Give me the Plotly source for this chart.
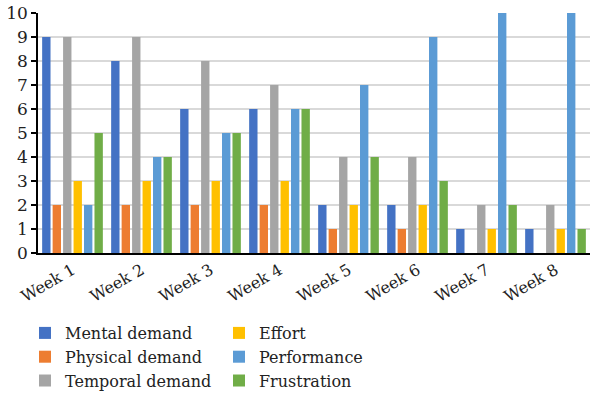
import plotly.graph_objects as go

weeks = ["Week 1", "Week 2", "Week 3", "Week 4", "Week 5", "Week 6", "Week 7", "Week 8"]

mental_demand = [9, 8, 6, 6, 2, 2, 1, 1]
physical_demand = [2, 2, 2, 2, 1, 1, 0, 0]
temporal_demand = [9, 9, 8, 7, 4, 4, 2, 2]
effort = [3, 3, 3, 3, 2, 2, 1, 1]
performance = [2, 4, 5, 6, 7, 9, 10, 10]
frustration = [5, 4, 5, 6, 4, 3, 2, 1]

series = [
    ("Mental demand", mental_demand, "#4472C4", "legend"),
    ("Physical demand", physical_demand, "#ED7D31", "legend"),
    ("Temporal demand", temporal_demand, "#A5A5A5", "legend"),
    ("Effort", effort, "#FFC000", "legend2"),
    ("Performance", performance, "#5B9BD5", "legend2"),
    ("Frustration", frustration, "#70AD47", "legend2"),
]

FONT = "'DejaVu Serif', 'Liberation Serif', serif"

fig = go.Figure()
for name, vals, color, leg in series:
    fig.add_trace(go.Bar(
        x=weeks, y=vals, name=name,
        marker=dict(color=color, line=dict(width=0)),
        legend=leg, legendgroup=name,
    ))

legend_style = dict(
    orientation="v",
    yanchor="top",
    xanchor="left",
    xref="container",
    yref="container",
    y=0.202,
    font=dict(family=FONT, size=16, color="#222222"),
    bgcolor="rgba(0,0,0,0)",
    tracegroupgap=0,
    itemclick=False,
)

fig.update_layout(
    width=592, height=396,
    margin=dict(l=38, r=2, t=13, b=143, autoexpand=False),
    paper_bgcolor="white",
    plot_bgcolor="white",
    barmode="group",
    bargap=0.09,
    bargroupgap=0.2,
    font=dict(family=FONT, size=16, color="#222222"),
    legend=dict(x=25 / 592, **legend_style),
    legend2=dict(x=219 / 592, **legend_style),
    xaxis=dict(
        showline=True, linecolor="black", linewidth=1.5,
        ticks="", tickangle=-30, automargin=False,
        tickfont=dict(family=FONT, size=16, color="#222222"),
        showgrid=False,
    ),
    yaxis=dict(
        range=[0, 10], dtick=1, automargin=False,
        showline=True, linecolor="black", linewidth=1.5,
        ticks="outside", ticklen=5, tickcolor="black", tickwidth=1.5,
        tickfont=dict(family=FONT, size=17, color="#222222"),
        showgrid=True, gridcolor="#d9d9d9", gridwidth=1.5,
        zeroline=False,
    ),
)

fig.write_html("out.html")
